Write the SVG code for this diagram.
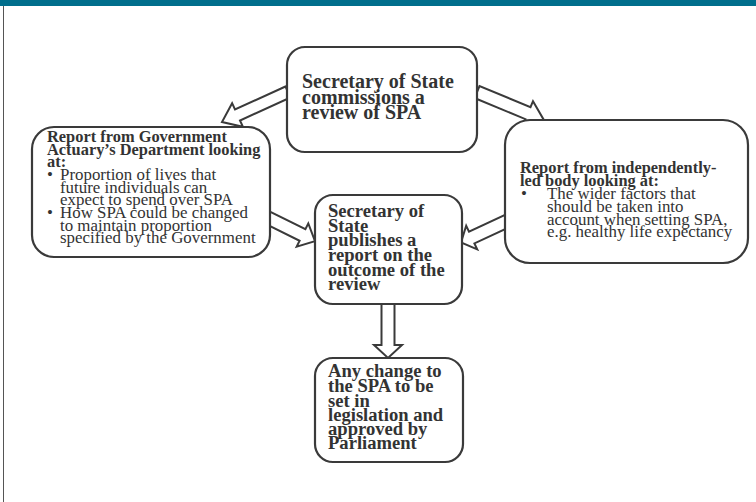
<svg xmlns="http://www.w3.org/2000/svg" width="756" height="502" viewBox="0 0 756 502">
<style>
.box{fill:#fff;stroke:#3a3a3a;stroke-width:2.2}
.arr{fill:#fff;stroke:#3a3a3a;stroke-width:2;stroke-linejoin:miter}
.t{font-family:"Liberation Serif","Times New Roman",serif;fill:#333}
.b{font-weight:bold}
.h20{font-size:20px}
.h18{font-size:18.6px}
.h16{font-size:16.4px}
.r17{font-size:16.9px}
</style>
<rect x="0" y="0" width="756" height="6" fill="#006e8c"/>
<line x1="3.5" y1="6" x2="3.5" y2="502" stroke="#555" stroke-width="1"/>
<g id="connectors">
<polygon class="arr" points="285.5,86.5 235,109.5 232.1,103.2 222,122 242.9,126.8 240,120.5 290.5,97.5"/>
<polygon class="arr" points="474.5,98 525.5,119.2 523,125.2 543.7,119.7 533,101.2 530.5,107.2 479.5,86"/>
<polygon class="arr" points="262.0,222.2 299.6,240.8 296.7,246.6 315,241.2 308.3,223.4 305.4,229.2 267.8,210.6"/>
<polygon class="arr" points="514.3,224.9 474.4,243.4 477.2,249.3 461,242.5 466.2,225.7 469,231.6 508.9,213.1"/>
<polygon class="arr" points="381.5,300 394.5,300 394.5,345 402,345 388,358 374,345 381.5,345"/>
</g>
<g id="n-top">
<rect class="box" x="287" y="47" width="190" height="105" rx="18"/>
<text class="t b h20" x="302"><tspan x="302" y="87.7">Secretary of State</tspan><tspan x="302" y="103.5">commissions a</tspan><tspan x="302" y="119.3">review of SPA</tspan></text>
</g>
<g id="n-gad">
<rect class="box" x="32" y="127" width="238" height="130" rx="22"/>
<text class="t b h16"><tspan x="47" y="142.3">Report from Government</tspan><tspan x="47" y="155">Actuary’s Department looking</tspan><tspan x="47" y="167.3">at:</tspan></text>
<text class="t r17"><tspan x="47" y="180">•</tspan><tspan x="60" y="180">Proportion of lives that</tspan><tspan x="60" y="192.7">future individuals can</tspan><tspan x="60" y="205">expect to spend over SPA</tspan><tspan x="47" y="218.3">•</tspan><tspan x="60" y="218.3">How SPA could be changed</tspan><tspan x="60" y="230.7">to maintain proportion</tspan><tspan x="60" y="243.3">specified by the Government</tspan></text>
</g>
<g id="n-indep">
<rect class="box" x="505" y="120" width="243" height="143" rx="25"/>
<text class="t b h16"><tspan x="520" y="173.3">Report from independently-</tspan><tspan x="520" y="186">led body looking at:</tspan></text>
<text class="t r17"><tspan x="521" y="199">•</tspan><tspan x="547" y="199">The wider factors that</tspan><tspan x="547" y="211.7">should be taken into</tspan><tspan x="547" y="225">account when setting SPA,</tspan><tspan x="547" y="237.3">e.g. healthy life expectancy</tspan></text>
</g>
<g id="n-publish">
<rect class="box" x="315" y="195" width="147" height="109" rx="18"/>
<text class="t b h18"><tspan x="328" y="217.3">Secretary of</tspan><tspan x="328" y="231.7">State</tspan><tspan x="328" y="246">publishes a</tspan><tspan x="328" y="261">report on the</tspan><tspan x="328" y="275.7">outcome of the</tspan><tspan x="328" y="290">review</tspan></text>
</g>
<g id="n-legislation">
<rect class="box" x="315" y="358" width="148" height="104" rx="18"/>
<text class="t b h18"><tspan x="328" y="377.3">Any change to</tspan><tspan x="328" y="391.7">the SPA to be</tspan><tspan x="328" y="406.7">set in</tspan><tspan x="328" y="420.7">legislation and</tspan><tspan x="328" y="435">approved by</tspan><tspan x="328" y="449.3">Parliament</tspan></text>
</g>
</svg>
